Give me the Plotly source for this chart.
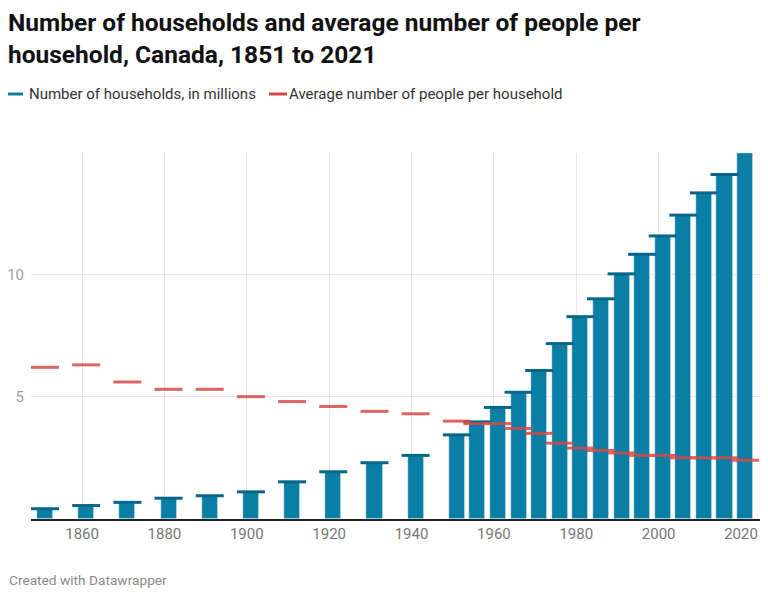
import plotly.graph_objects as go

# census years
years = [1851, 1861, 1871, 1881, 1891, 1901, 1911, 1921, 1931, 1941,
         1951, 1956, 1961, 1966, 1971, 1976, 1981, 1986, 1991, 1996,
         2001, 2006, 2011, 2016, 2021]

# number of households, in millions
households = [0.42, 0.55, 0.68, 0.85, 0.95, 1.11, 1.52, 1.93, 2.30, 2.60,
              3.44, 3.97, 4.56, 5.18, 6.07, 7.17, 8.27, 9.00, 10.02, 10.82,
              11.57, 12.42, 13.33, 14.08, 14.97]

# average number of people per household
avg_size = [6.2, 6.3, 5.6, 5.3, 5.3, 5.0, 4.8, 4.6, 4.4, 4.3,
            4.0, 3.9, 3.9, 3.7, 3.5, 3.1, 2.9, 2.8, 2.7, 2.6,
            2.6, 2.5, 2.5, 2.5, 2.4]

series_names = ['Number of households, in millions',
                'Average number of people per household']

x_ticks = [1860, 1880, 1900, 1920, 1940, 1960, 1980, 2000, 2020]
y_ticks = [5, 10]

blue = '#0a7fa6'
blue_cap = '#05668a'
red = '#d94848'
font = 'Roboto'

# plot area in px (the page body adds an 8px offset, already subtracted)
L, T, W, H = 23, 145, 731, 366


def px_x(x):
    return (x - L) / W


def px_y(y):
    return 1 - (y - T) / H


# bars
trace_bars = go.Bar(x=years, y=households,
                    width=3.9,
                    name=series_names[0],
                    marker=dict(color=blue, line=dict(color='white', width=0.6)),
                    showlegend=False,
                    hoverinfo='x+y')

# dark cap on top of each bar
trace_caps = go.Scatter(x=years, y=households,
                        mode='markers',
                        showlegend=False, hoverinfo='skip',
                        marker=dict(symbol='line-ew', size=20,
                                    line=dict(color=blue_cap, width=3)),
                        cliponaxis=False)

# red dashes for avg household size
trace_avg = go.Scatter(x=years, y=avg_size,
                       mode='markers',
                       name=series_names[1],
                       showlegend=False,
                       opacity=0.85,
                       marker=dict(symbol='line-ew', size=20,
                                   line=dict(color=red, width=3)),
                       cliponaxis=False)

# legend drawn by hand (datawrapper style: short line + label)
legend_y = px_y(86)
shapes = [
    dict(type='line', xref='paper', yref='paper',
         x0=px_x(0), x1=px_x(15), y0=legend_y, y1=legend_y,
         line=dict(color=blue, width=3)),
    dict(type='line', xref='paper', yref='paper',
         x0=px_x(261), x1=px_x(279), y0=legend_y, y1=legend_y,
         line=dict(color=red, width=3)),
]
annotations = [
    dict(text=series_names[0], x=px_x(19), y=legend_y,
         xref='paper', yref='paper', xanchor='left', yanchor='middle',
         showarrow=False, font=dict(family=font, size=15, color='#333333')),
    dict(text=series_names[1], x=px_x(279), y=legend_y,
         xref='paper', yref='paper', xanchor='left', yanchor='middle',
         showarrow=False, font=dict(family=font, size=15, color='#333333')),
    dict(text='Created with Datawrapper',
         x=px_x(-1), xref='paper', xanchor='left',
         y=px_y(572), yref='paper', yanchor='middle',
         showarrow=False,
         font=dict(family=font, size=13.7, color='#8a8a8a')),
]

layout = go.Layout(
    width=768, height=596,
    paper_bgcolor='white', plot_bgcolor='white',
    font=dict(family=font, color='#333333'),
    title=dict(text='<b>Number of households and average number of people per<br>household, Canada, 1851 to 2021</b>',
               x=0, xanchor='left', xref='container',
               y=1 - 23 / 596, yanchor='top', yref='container',
               font=dict(family=font, size=24.5, color='#111111')),
    showlegend=False,
    xaxis=dict(range=[1847.6, 2025.1],
               tickvals=x_ticks,
               showgrid=True, gridcolor='#e6e6e6', gridwidth=1,
               showline=True, linecolor='#222222', linewidth=1.5,
               zeroline=False, ticks='',
               tickfont=dict(family=font, size=15, color='#777777')),
    yaxis=dict(range=[0, 14.96],
               tickvals=y_ticks,
               showgrid=True, gridcolor='#e6e6e6', gridwidth=1,
               zeroline=False, showline=False, ticks='',
               ticklabelstandoff=6,
               tickfont=dict(family=font, size=15, color='#a0a0a0')),
    margin=dict(l=L, r=768 - L - W, t=T, b=596 - T - H, autoexpand=False),
    bargap=0,
    shapes=shapes,
    annotations=annotations,
)

fig = go.Figure(data=[trace_bars, trace_caps, trace_avg], layout=layout)
fig.write_html("out.html")
